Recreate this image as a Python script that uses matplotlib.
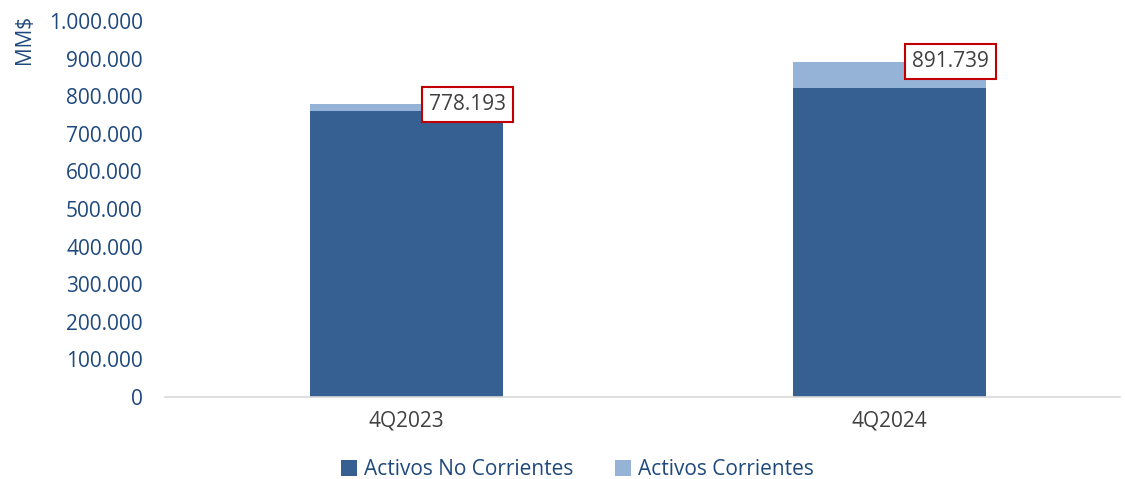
import matplotlib.pyplot as plt
from matplotlib.ticker import FuncFormatter

plt.rcParams['font.family'] = ['Open Sans', 'DejaVu Sans']

categories = ['4Q2023', '4Q2024']
no_corrientes = [760000, 823000]
corrientes = [18193, 68739]
totales = [778193, 891739]

dark = '#366092'
light = '#95B3D7'
text_col = '#1F497D'

fig = plt.figure(figsize=(11.25, 4.79), dpi=100)
ax = fig.add_axes([0.1467, 0.1712, 0.849, 0.785])

x = range(len(categories))
ax.bar(x, no_corrientes, width=0.40, color=dark, label='Activos No Corrientes')
ax.bar(x, corrientes, width=0.40, bottom=no_corrientes, color=light, label='Activos Corrientes')

for i, t in enumerate(totales):
    lbl = f'{t:,}'.replace(',', '.')
    ax.text(i + 0.126, t, lbl, ha='center', va='center', fontsize=15, color='#404040',
            bbox=dict(boxstyle='square,pad=0.35', fc='white', ec='#C00000', lw=1.5))

ax.set_xlim(-0.5, 1.477)
ax.set_ylim(0, 1000000)
ax.set_yticks(range(0, 1000001, 100000))
ax.yaxis.set_major_formatter(FuncFormatter(lambda v, p: f'{int(v):,}'.replace(',', '.')))
ax.set_xticks(list(x))
ax.set_xticklabels(categories)
ax.tick_params(axis='both', length=0, labelsize=15, colors=text_col)
ax.tick_params(axis='x', pad=10, colors='#404040')
ax.tick_params(axis='y', pad=16)

for s in ['top', 'right', 'left']:
    ax.spines[s].set_visible(False)
ax.spines['bottom'].set_color('#D9D9D9')
ax.spines['bottom'].set_linewidth(1.2)

fig.text(0.022, 0.917, 'MM$', rotation=90, ha='center', va='center', fontsize=15, color=text_col)

fig.legend(loc='center', bbox_to_anchor=(0.513, 0.02), ncol=2, frameon=False, fontsize=15,
           handlelength=0.8, handleheight=0.8, handletextpad=0.3, columnspacing=2.0, labelcolor=text_col)

fig.savefig('out.png', dpi=100)
